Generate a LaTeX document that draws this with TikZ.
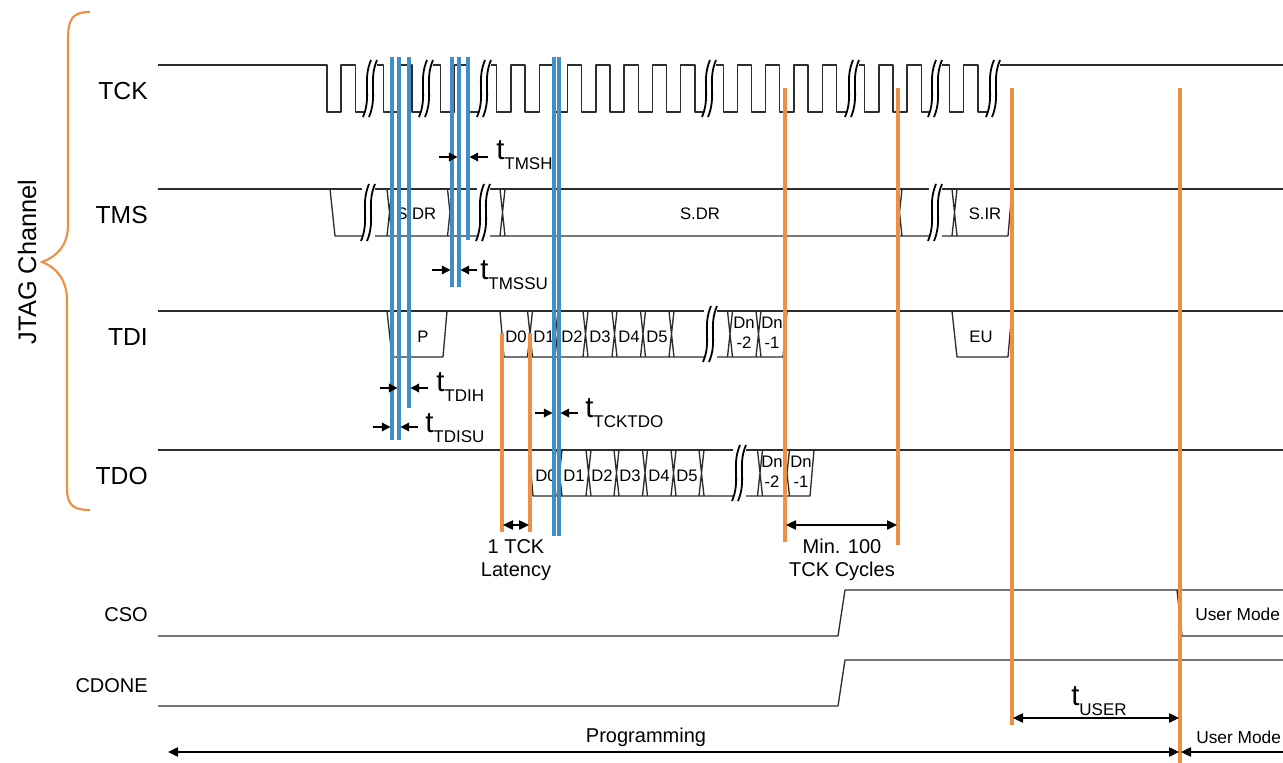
\documentclass[tikz,border=0pt]{standalone}
\usepackage{fontspec}
\setmainfont{Liberation Sans}
\usetikzlibrary{arrows.meta}
\definecolor{bluel}{RGB}{62,142,200}
\definecolor{orangel}{RGB}{238,143,70}
\definecolor{sigc}{RGB}{45,45,45}
\newcommand{\tlab}[1]{{\fontsize{22}{24}\selectfont t}\raisebox{-7.5pt}{\fontsize{12.75}{14}\selectfont #1}}
\newcommand{\mysquig}[3]{%
 \fill[white] ({#1-6.5},{#2-2}) rectangle ({#1+6.5},{#3+2});
 \draw[sq] ({#1+1},{#2-5}) .. controls ({#1-8},{#2+0.35*(#3-#2)}) and ({#1+2},{#3-0.35*(#3-#2)}) .. ({#1-7},{#3+5});
 \draw[sq] ({#1+7},{#2-5}) .. controls ({#1-2},{#2+0.35*(#3-#2)}) and ({#1+8},{#3-0.35*(#3-#2)}) .. ({#1-1},{#3+5});
}
\newcommand{\xcr}[3]{\draw[sig] ({#1-2.5},#2) -- ({#1+2.5},#3) ({#1-2.5},#3) -- ({#1+2.5},#2);}
\begin{document}
\begin{tikzpicture}[x=0.75pt,y=-0.75pt,
  sig/.style={draw=sigc,line width=1pt,line join=round},
  sq/.style={draw=black,line width=1.35pt},
  bline/.style={draw=bluel,line width=2.3pt},
  oline/.style={draw=orangel,line width=2.4pt},
  lbl/.style={font=\fontsize{18.5}{20}\selectfont,anchor=east,inner sep=0pt},
  slbl/.style={font=\fontsize{15}{17}\selectfont,anchor=east,inner sep=0pt},
  box/.style={font=\fontsize{12.5}{15}\selectfont,inner sep=0pt,align=center},
  note/.style={font=\fontsize{15}{17}\selectfont,inner sep=0pt,align=center},
  um/.style={font=\fontsize{13}{15}\selectfont,inner sep=0pt},
  tarr/.style={-{Triangle[length=6.5pt,width=6.5pt]},line width=1pt},
  darr/.style={{Triangle[length=7.5pt,width=7pt]}-{Triangle[length=7.5pt,width=7pt]},line width=1pt},
  tl/.style={inner sep=0pt,anchor=base west}]
\useasboundingbox (0,0) rectangle (1283,763);

% brace and group label
\draw[orangel,line width=1.6pt] (90,12) .. controls (73,12) and (68,18) .. (68,40) -- (68,225)
  .. controls (68,246) and (56,257) .. (42,262) .. controls (56,267) and (67,280) .. (67,300)
  -- (67,488) .. controls (67,505) and (73,510) .. (90,510);
\node[font=\fontsize{19}{21}\selectfont,rotate=90,inner sep=0pt] (jtag) at (27,262) {JTAG Channel};

% signal labels
\node[lbl] (lTCK) at (148,91) {TCK};
\node[lbl] (lTMS) at (148,215) {TMS};
\node[lbl] (lTDI) at (148,337) {TDI};
\node[lbl] (lTDO) at (148,476) {TDO};
\node[slbl] (lCSO) at (148,615) {CSO};
\node[slbl] (lCDONE) at (148,686) {CDONE};

% TCK
\draw[sig] (158,65) \foreach \k in {0,...,23}{ -- ({327+28.3*\k},65) -- ({327+28.3*\k},112) -- ({341.15+28.3*\k},112) -- ({341.15+28.3*\k},65)} -- (1283,65);

% TMS
\draw[sig] (158,189) -- (1283,189);
\draw[sig] (330,189) -- (335,236) -- (1008,236) -- (1012,189);
\xcr{389.5}{189}{236}
\xcr{450}{189}{236}
\xcr{502.5}{189}{236}
\xcr{899.5}{189}{236}
\xcr{954.5}{189}{236}
\node[box,anchor=west] (tms1) at (396,214) {S.DR};
\node[box] (tms2) at (700,214) {S.DR};
\node[box] (tms3) at (985,214) {S.IR};

% TDI
\draw[sig] (158,311) -- (1283,311);
\draw[sig] (387,311) -- (392,357) -- (443,357) -- (447,311);
\draw[sig] (500,311) -- (504,357) -- (783,357) -- (787,311);
\draw[sig] (952,311) -- (957,357) -- (1008,357) -- (1012,311);
\foreach \x in {530,557.5,585.5,614.5,643,671.5,730,758.5}{\xcr{\x}{311}{357}}
\node[box] (tdiP) at (423,337) {P};
\node[box] (tdi0) at (516,337) {D0};
\node[box] (tdi1) at (544,337) {D1};
\node[box] (tdi2) at (572,337) {D2};
\node[box] (tdi3) at (600,337) {D3};
\node[box] (tdi4) at (629,337) {D4};
\node[box] (tdi5) at (657,337) {D5};
\node[box] (tdin2) at (744,333) {Dn\\-2};
\node[box] (tdin1) at (772,333) {Dn\\-1};
\node[box] (tdiEU) at (981,337) {EU};

% TDO
\draw[sig] (158,450) -- (1283,450);
\draw[sig] (529,450) -- (533,496) -- (810,496) -- (814,450);
\foreach \x in {559.5,588.5,616.5,645,673.5,701.5,760,787}{\xcr{\x}{450}{496}}
\node[box] (tdo0) at (546,476) {D0};
\node[box] (tdo1) at (574,476) {D1};
\node[box] (tdo2) at (602,476) {D2};
\node[box] (tdo3) at (630,476) {D3};
\node[box] (tdo4) at (659,476) {D4};
\node[box] (tdo5) at (687,476) {D5};
\node[box] (tdon2) at (772,472) {Dn\\-2};
\node[box] (tdon1) at (801,472) {Dn\\-1};

% CSO, CDONE
\draw[sig] (158,636) -- (838,636) -- (845,590) -- (1283,590);
\draw[sig] (1177,590) -- (1182,636) -- (1283,636);
\node[um,anchor=west] (csoum) at (1195,614) {User Mode};
\draw[sig] (158,706) -- (838,706) -- (845,660) -- (1283,660);

% squiggles
\foreach \x in {370,426,484,709,852,935,993}{\mysquig{\x}{65}{112}}
\foreach \x in {368,483,935}{\mysquig{\x}{189}{236}}
\mysquig{710}{311}{357}
\mysquig{739}{450}{496}

% blue lines
\coordinate (b1t) at (392,57); \coordinate (b1b) at (392,440);
\coordinate (b2t) at (399,57); \coordinate (b2b) at (399,440);
\coordinate (b3t) at (409,57); \coordinate (b3b) at (409,408);
\coordinate (b4t) at (452,57); \coordinate (b4b) at (452,287);
\coordinate (b5t) at (459,57); \coordinate (b5b) at (459,287);
\coordinate (b6t) at (468,57); \coordinate (b6b) at (468,240);
\coordinate (b7t) at (554,57); \coordinate (b7b) at (554,536);
\coordinate (b8t) at (559,57); \coordinate (b8b) at (559,536);
\foreach \i in {1,...,8}{\draw[bline] (b\i t) -- (b\i b);}

% orange lines
\coordinate (o1t) at (502,333); \coordinate (o1b) at (502,532);
\coordinate (o2t) at (530,333); \coordinate (o2b) at (530,532);
\coordinate (o3t) at (785,88); \coordinate (o3b) at (785,542);
\coordinate (o4t) at (898,88); \coordinate (o4b) at (898,545);
\coordinate (o5t) at (1012,88); \coordinate (o5b) at (1012,725);
\coordinate (o6t) at (1180,88); \coordinate (o6b) at (1180,763);
\foreach \i in {1,...,6}{\draw[oline] (o\i t) -- (o\i b);}

% timing arrows
\coordinate (a1) at (439,157); \coordinate (a2) at (488,157);
\draw[tarr] (a1) -- (457.5,157);
\draw[tarr] (a2) -- (469.5,157);
\node[tl] (tTMSH) at (496,160) {\tlab{TMSH}};

\coordinate (a3) at (432,270); \coordinate (a4) at (477,270);
\draw[tarr] (a3) -- (450.5,270);
\draw[tarr] (a4) -- (460.5,270);
\node[tl] (tTMSSU) at (480,280) {\tlab{TMSSU}};

\coordinate (a5) at (380,388); \coordinate (a6) at (428,388);
\draw[tarr] (a5) -- (397.5,388);
\draw[tarr] (a6) -- (410.5,388);
\node[tl] (tTDIH) at (436,392) {\tlab{TDIH}};

\coordinate (a7) at (373,427); \coordinate (a8) at (418,427);
\draw[tarr] (a7) -- (390.5,427);
\draw[tarr] (a8) -- (400.5,427);
\node[tl] (tTDISU) at (425,432) {\tlab{TDISU}};

\coordinate (a9) at (535,413); \coordinate (a10) at (578,413);
\draw[tarr] (a9) -- (552.5,413);
\draw[tarr] (a10) -- (560.5,413);
\node[tl] (tTCKTDO) at (585,417) {\tlab{TCKTDO}};

% dimension arrows
\draw[darr] (503,525) -- (529,525);
\node[note] (lat) at (516,560) {1 TCK\\Latency};
\draw[darr] (786,525) -- (897,525);
\node[note] (min) at (842,560) {Min. 100\\TCK Cycles};
\draw[darr] (1013,718) -- (1179,718);
\node[tl] (tUSER) at (1071,705) {\tlab{USER}};
\coordinate (pl) at (168,752); \coordinate (pr) at (1179,752);
\draw[darr] (pl) -- (pr);
\node[note] (prog) at (646,737) {Programming};
\coordinate (ul) at (1181,752); \coordinate (ur) at (1290,752);
\draw[{Triangle[length=7.5pt,width=7pt]}-,line width=1pt] (ul) -- (ur);
\node[um,anchor=west] (umode) at (1196,737) {User Mode};
\end{tikzpicture}
\end{document}
